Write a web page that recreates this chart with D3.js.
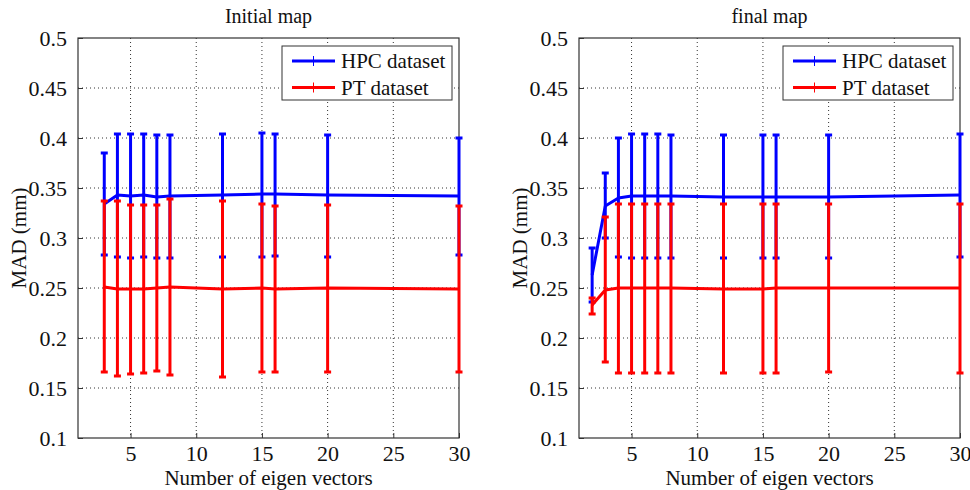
<!DOCTYPE html>
<html>
<head>
<meta charset="utf-8">
<script src="https://cdn.jsdelivr.net/npm/d3@7"></script>
<style>
  body { margin: 0; background: #fff; }
  svg { display: block; font-family: "Liberation Serif", "Times New Roman", serif; }
</style>
</head>
<body>
<svg id="chart" width="970" height="490"></svg>
<script>
// axis ticks
const xTicks = [5, 10, 15, 20, 25, 30];
const yTicks = [0.1, 0.15, 0.2, 0.25, 0.3, 0.35, 0.4, 0.45, 0.5];

// initial map
const xInitial = [3, 4, 5, 6, 7, 8, 12, 15, 16, 20, 30];
const hpcInitialMean = [0.334, 0.343, 0.342, 0.343, 0.341, 0.342, 0.343, 0.344, 0.344, 0.343, 0.342];
const hpcInitialLow  = [0.283, 0.281, 0.280, 0.281, 0.280, 0.280, 0.281, 0.281, 0.282, 0.281, 0.283];
const hpcInitialHigh = [0.385, 0.404, 0.404, 0.404, 0.403, 0.403, 0.404, 0.405, 0.404, 0.403, 0.400];
const ptInitialMean  = [0.251, 0.249, 0.249, 0.249, 0.250, 0.251, 0.249, 0.250, 0.249, 0.250, 0.249];
const ptInitialLow   = [0.166, 0.162, 0.164, 0.165, 0.167, 0.163, 0.161, 0.166, 0.166, 0.166, 0.166];
const ptInitialHigh  = [0.337, 0.337, 0.333, 0.333, 0.333, 0.339, 0.337, 0.334, 0.332, 0.333, 0.332];

// final map
const xFinal = [2, 3, 4, 5, 6, 7, 8, 12, 15, 16, 20, 30];
const hpcFinalMean = [0.263, 0.332, 0.340, 0.342, 0.342, 0.342, 0.342, 0.341, 0.341, 0.341, 0.341, 0.343];
const hpcFinalLow  = [0.236, 0.300, 0.281, 0.280, 0.280, 0.280, 0.280, 0.280, 0.280, 0.280, 0.280, 0.281];
const hpcFinalHigh = [0.290, 0.365, 0.400, 0.404, 0.404, 0.404, 0.403, 0.403, 0.403, 0.403, 0.403, 0.404];
const ptFinalMean  = [0.233, 0.248, 0.250, 0.250, 0.250, 0.250, 0.250, 0.249, 0.249, 0.250, 0.250, 0.250];
const ptFinalLow   = [0.224, 0.176, 0.165, 0.165, 0.165, 0.165, 0.165, 0.165, 0.165, 0.165, 0.166, 0.165];
const ptFinalHigh  = [0.240, 0.321, 0.334, 0.334, 0.334, 0.334, 0.334, 0.334, 0.334, 0.334, 0.334, 0.334];

const seriesNames = ['HPC dataset', 'PT dataset'];
const seriesColors = ['#0000ff', '#ff0000'];
const serif = '"Liberation Serif", "Times New Roman", serif';

const svg = d3.select('#chart');

function zip(xs, mean, low, high) {
    return xs.map((x, i) => ({x: x, mean: mean[i], low: low[i], high: high[i]}));
}

function drawPanel(left, title, series) {
    const top = 38, width = 381, height = 400;
    const g = svg.append('g').attr('transform', `translate(${left},${top})`);

    const x = d3.scaleLinear().domain([1, 30]).range([0, width]);
    const y = d3.scaleLinear().domain([0.1, 0.5]).range([height, 0]);

    // dotted grid
    g.selectAll('.gx').data(xTicks.filter(t => t < 30)).enter().append('line')
        .attr('x1', d => x(d)).attr('x2', d => x(d))
        .attr('y1', 0).attr('y2', height)
        .attr('stroke', '#333').attr('stroke-width', 1).attr('stroke-dasharray', '1,3');
    g.selectAll('.gy').data(yTicks.slice(1, -1)).enter().append('line')
        .attr('x1', 0).attr('x2', width)
        .attr('y1', d => y(d)).attr('y2', d => y(d))
        .attr('stroke', '#333').attr('stroke-width', 1).attr('stroke-dasharray', '1,3');

    // axes, ticks point inward like matlab
    const xAxis = g.append('g').attr('transform', `translate(0,${height})`)
        .call(d3.axisBottom(x).tickValues(xTicks).tickSize(-5).tickPadding(7).tickFormat(d3.format('d')));
    const yAxis = g.append('g')
        .call(d3.axisLeft(y).tickValues(yTicks).tickSize(-5).tickPadding(11).tickFormat(d => String(+d.toFixed(2))));
    [xAxis, yAxis].forEach(a => {
        a.attr('font-family', serif).attr('font-size', 22);
        a.select('.domain').remove();
        a.selectAll('line').attr('stroke', '#333');
        a.selectAll('text').attr('fill', '#111');
    });
    xAxis.selectAll('text').attr('dy', '0.71em');

    g.append('rect').attr('width', width).attr('height', height)
        .attr('fill', 'none').attr('stroke', '#333').attr('stroke-width', 1.2);

    const line = d3.line().x(d => x(d.x)).y(d => y(d.mean));

    series.forEach((data, k) => {
        const col = seriesColors[k];
        const s = g.append('g');
        s.selectAll('.bar').data(data).enter().append('line')
            .attr('x1', d => x(d.x)).attr('x2', d => x(d.x))
            .attr('y1', d => y(d.low)).attr('y2', d => y(d.high))
            .attr('stroke', col).attr('stroke-width', 3);
        ['low', 'high'].forEach(key => {
            s.selectAll('.cap-' + key).data(data).enter().append('line')
                .attr('x1', d => x(d.x) - 3.5).attr('x2', d => x(d.x) + 3.5)
                .attr('y1', d => y(d[key])).attr('y2', d => y(d[key]))
                .attr('stroke', col).attr('stroke-width', 3);
        });
        s.append('path').datum(data)
            .attr('d', line).attr('fill', 'none')
            .attr('stroke', col).attr('stroke-width', 3).attr('stroke-linejoin', 'round');
    });

    // legend
    const lg = g.append('g').attr('transform', `translate(${width - 177},8)`);
    lg.append('rect').attr('width', 170).attr('height', 54)
        .attr('fill', '#fff').attr('stroke', '#333').attr('stroke-width', 1);
    seriesNames.forEach((name, k) => {
        const ly = 15 + k * 26.5;
        lg.append('line').attr('x1', 10).attr('x2', 53).attr('y1', ly).attr('y2', ly)
            .attr('stroke', seriesColors[k]).attr('stroke-width', 3);
        lg.append('line').attr('x1', 31.5).attr('x2', 31.5).attr('y1', ly - 5).attr('y2', ly + 5)
            .attr('stroke', seriesColors[k]).attr('stroke-width', 1);
        lg.append('text').attr('x', 59).attr('y', ly).attr('dy', '0.35em')
            .attr('font-size', 21).attr('fill', '#111').text(name);
    });

    // title and labels
    g.append('text').attr('x', width / 2).attr('y', -15).attr('text-anchor', 'middle')
        .attr('font-size', 20).attr('fill', '#111').text(title);
    g.append('text').attr('x', width / 2).attr('y', height + 47).attr('text-anchor', 'middle')
        .attr('font-size', 21).attr('fill', '#111').text('Number of eigen vectors');
    g.append('text').attr('transform', `translate(-59,${height / 2}) rotate(-90)`)
        .attr('text-anchor', 'middle').attr('dy', '0.35em')
        .attr('font-size', 21).attr('fill', '#111').text('MAD (mm)');
}

drawPanel(78, 'Initial map', [
    zip(xInitial, hpcInitialMean, hpcInitialLow, hpcInitialHigh),
    zip(xInitial, ptInitialMean, ptInitialLow, ptInitialHigh)
]);
drawPanel(579, 'final map', [
    zip(xFinal, hpcFinalMean, hpcFinalLow, hpcFinalHigh),
    zip(xFinal, ptFinalMean, ptFinalLow, ptFinalHigh)
]);
</script>
</body>
</html>
